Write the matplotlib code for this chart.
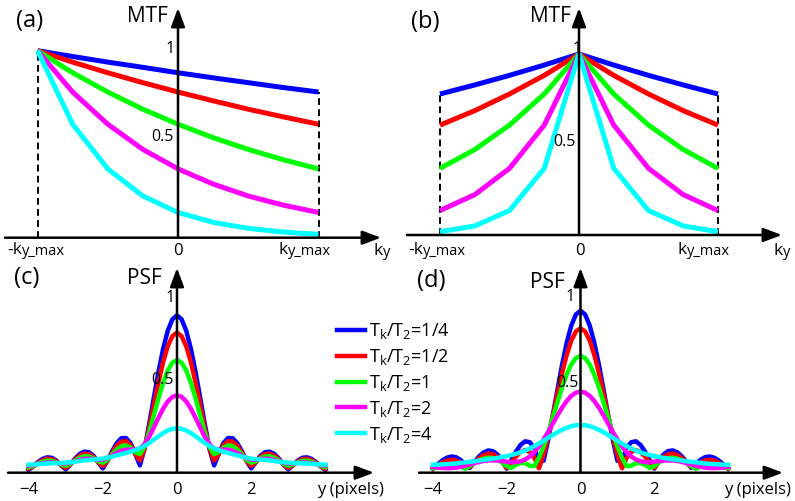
import numpy as np
import matplotlib
matplotlib.use('Agg')
import matplotlib.pyplot as plt

# ---------------- data ----------------
ratio_labels = ['1/4', '1/2', '1', '2', '4']

# k-space sample positions (units of ky_max)
ky = [-1.0, -0.75, -0.5, -0.25, 0.0, 0.25, 0.5, 0.75, 1.0]

# (a) MTF, one-sided (linear) ordering
mtf_a_quarter = [1.00, 0.969, 0.939, 0.911, 0.882, 0.855, 0.829, 0.803, 0.779]
mtf_a_half    = [1.00, 0.939, 0.882, 0.829, 0.779, 0.732, 0.687, 0.646, 0.607]
mtf_a_one     = [1.00, 0.882, 0.779, 0.687, 0.607, 0.535, 0.472, 0.417, 0.368]
mtf_a_two     = [1.00, 0.779, 0.607, 0.472, 0.368, 0.287, 0.223, 0.174, 0.135]
mtf_a_four    = [1.00, 0.607, 0.368, 0.223, 0.135, 0.082, 0.050, 0.030, 0.018]

# (b) MTF, centric ordering
mtf_b_quarter = [0.779, 0.829, 0.882, 0.939, 1.00, 0.939, 0.882, 0.829, 0.779]
mtf_b_half    = [0.607, 0.687, 0.779, 0.882, 1.00, 0.882, 0.779, 0.687, 0.607]
mtf_b_one     = [0.368, 0.472, 0.607, 0.779, 1.00, 0.779, 0.607, 0.472, 0.368]
mtf_b_two     = [0.135, 0.223, 0.368, 0.607, 1.00, 0.607, 0.368, 0.223, 0.135]
mtf_b_four    = [0.018, 0.050, 0.135, 0.368, 1.00, 0.368, 0.135, 0.050, 0.018]

# PSF sample positions (pixels), right half; curves are symmetric about 0
y_pix = [0.0, 0.125, 0.25, 0.375, 0.5, 0.625, 0.75, 0.875, 1.0,
         1.125, 1.25, 1.375, 1.5, 1.625, 1.75, 1.875, 2.0,
         2.125, 2.25, 2.375, 2.5, 2.625, 2.75, 2.875, 3.0,
         3.125, 3.25, 3.375, 3.5, 3.625, 3.75, 3.875, 4.0]

# (c) PSF magnitude
psf_c_quarter = [0.885, 0.862, 0.797, 0.695, 0.564, 0.418, 0.269, 0.129, 0.035,
                 0.100, 0.161, 0.190, 0.189, 0.161, 0.115, 0.060, 0.018,
                 0.053, 0.090, 0.110, 0.113, 0.100, 0.073, 0.039, 0.012,
                 0.036, 0.062, 0.078, 0.081, 0.072, 0.054, 0.029, 0.009]
psf_c_half    = [0.787, 0.767, 0.709, 0.619, 0.505, 0.377, 0.247, 0.129, 0.062,
                 0.101, 0.149, 0.172, 0.170, 0.146, 0.106, 0.061, 0.031,
                 0.053, 0.083, 0.100, 0.102, 0.090, 0.068, 0.040, 0.021,
                 0.036, 0.057, 0.070, 0.073, 0.065, 0.050, 0.029, 0.016]
psf_c_one     = [0.632, 0.617, 0.572, 0.503, 0.415, 0.318, 0.221, 0.140, 0.099,
                 0.110, 0.135, 0.148, 0.144, 0.125, 0.097, 0.066, 0.050,
                 0.059, 0.075, 0.086, 0.087, 0.078, 0.062, 0.043, 0.033,
                 0.040, 0.052, 0.061, 0.062, 0.056, 0.045, 0.032, 0.025]
psf_c_two     = [0.432, 0.423, 0.397, 0.356, 0.305, 0.250, 0.197, 0.155, 0.131,
                 0.124, 0.125, 0.124, 0.118, 0.106, 0.090, 0.076, 0.068,
                 0.067, 0.071, 0.073, 0.072, 0.066, 0.058, 0.050, 0.046,
                 0.046, 0.049, 0.052, 0.051, 0.048, 0.043, 0.037, 0.034]
psf_c_four    = [0.245, 0.242, 0.233, 0.218, 0.200, 0.181, 0.162, 0.145, 0.132,
                 0.122, 0.113, 0.106, 0.099, 0.092, 0.085, 0.079, 0.074,
                 0.071, 0.068, 0.066, 0.063, 0.060, 0.056, 0.053, 0.051,
                 0.049, 0.048, 0.047, 0.046, 0.044, 0.042, 0.040, 0.039]

# (d) PSF magnitude
psf_d_quarter = [0.885, 0.864, 0.802, 0.705, 0.582, 0.443, 0.300, 0.164, 0.045,
                 0.050, 0.115, 0.149, 0.154, 0.134, 0.096, 0.048, 0.001,
                 0.046, 0.080, 0.099, 0.103, 0.092, 0.069, 0.038, 0.005,
                 0.026, 0.050, 0.065, 0.069, 0.062, 0.046, 0.024, 0.000]
psf_d_half    = [0.787, 0.769, 0.718, 0.637, 0.535, 0.418, 0.297, 0.182, 0.079,
                 0.003, 0.062, 0.095, 0.105, 0.094, 0.068, 0.033, 0.005,
                 0.039, 0.066, 0.082, 0.085, 0.077, 0.059, 0.035, 0.009,
                 0.016, 0.035, 0.047, 0.051, 0.046, 0.034, 0.018, 0.001]
psf_d_one     = [0.632, 0.620, 0.584, 0.527, 0.455, 0.372, 0.286, 0.202, 0.126,
                 0.062, 0.015, 0.017, 0.032, 0.032, 0.022, 0.005, 0.016,
                 0.035, 0.051, 0.060, 0.062, 0.057, 0.046, 0.032, 0.015,
                 0.000, 0.013, 0.022, 0.025, 0.023, 0.017, 0.007, 0.004]
psf_d_two     = [0.432, 0.426, 0.408, 0.379, 0.342, 0.299, 0.253, 0.207, 0.164,
                 0.125, 0.093, 0.069, 0.052, 0.042, 0.037, 0.037, 0.040,
                 0.043, 0.046, 0.047, 0.047, 0.044, 0.038, 0.032, 0.024,
                 0.017, 0.011, 0.007, 0.004, 0.004, 0.005, 0.007, 0.011]
psf_d_four    = [0.245, 0.244, 0.238, 0.230, 0.218, 0.205, 0.189, 0.174, 0.157,
                 0.142, 0.127, 0.114, 0.102, 0.092, 0.084, 0.077, 0.071,
                 0.066, 0.061, 0.057, 0.053, 0.050, 0.046, 0.042, 0.039,
                 0.036, 0.033, 0.030, 0.028, 0.026, 0.025, 0.023, 0.023]

psf_ticks = [-4, -2, 0, 2]
psf_tick_labels = ['\u22124', '\u22122', '0', '2']

# ---------------- style ----------------
W, H = 795, 501
plt.rcParams['font.family'] = ['Open Sans', 'DejaVu Sans']
plt.rcParams['mathtext.fontset'] = 'custom'
plt.rcParams['mathtext.rm'] = 'Open Sans'
plt.rcParams['mathtext.it'] = 'Open Sans'
colors = ['#0000ff', '#ff0000', '#00ff00', '#ff00ff', '#00ffff']

fig = plt.figure(figsize=(W / 100, H / 100), dpi=100)
fig.patch.set_facecolor('white')

panels = {
    'a': dict(box=(0, 0, 400, 258), cx=178, sx=140.5, cy=237.7, sy=187.0),
    'b': dict(box=(400, 0, 795, 258), cx=579, sx=139.0, cy=235.0, sy=181.0),
    'c': dict(box=(0, 258, 400, 501), cx=177, sx=37.1, cy=471.6, sy=176.6),
    'd': dict(box=(400, 258, 795, 501), cx=580.5, sx=36.9, cy=468.8, sy=178.6),
}


def make_axes(p):
    l, t, r, b = p['box']
    ax = fig.add_axes([l / W, 1 - b / H, (r - l) / W, (b - t) / H])
    ax.set_xlim((l - p['cx']) / p['sx'], (r - p['cx']) / p['sx'])
    ax.set_ylim((p['cy'] - b) / p['sy'], (p['cy'] - t) / p['sy'])
    ax.axis('off')
    p['ax'] = ax
    return ax


def X(p, px):
    return (px - p['cx']) / p['sx']


def Y(p, py):
    return (p['cy'] - py) / p['sy']


def arrow(p, x0, y0, x1, y1):
    p['ax'].annotate('', xy=(X(p, x1), Y(p, y1)), xytext=(X(p, x0), Y(p, y0)),
                     arrowprops=dict(arrowstyle='-|>,head_length=0.75,head_width=0.28',
                                     lw=1.8, color='k', mutation_scale=15,
                                     shrinkA=0, shrinkB=0),
                     zorder=10, annotation_clip=False)


def ftext(x, y, s, **kw):
    kw.setdefault('ha', 'center')
    kw.setdefault('va', 'center')
    return fig.text(x / W, 1 - y / H, s, **kw)


renderer = fig.canvas.get_renderer()


def two_part(xc, yb, main, sub, f1=12.5, f2=10.5):
    t1 = ftext(0, yb, main, fontsize=f1, ha='left', va='baseline')
    t2 = ftext(0, yb + 1, sub, fontsize=f2, ha='left', va='baseline')
    w1 = t1.get_window_extent(renderer).width
    w2 = t2.get_window_extent(renderer).width
    start = xc - (w1 + w2) / 2
    t1.set_x(start / W)
    t2.set_x((start + w1) / W)


mtf_a = [mtf_a_quarter, mtf_a_half, mtf_a_one, mtf_a_two, mtf_a_four]
mtf_b = [mtf_b_quarter, mtf_b_half, mtf_b_one, mtf_b_two, mtf_b_four]
psf_c = [psf_c_quarter, psf_c_half, psf_c_one, psf_c_two, psf_c_four]
psf_d = [psf_d_quarter, psf_d_half, psf_d_one, psf_d_two, psf_d_four]

dash = dict(color='k', lw=1.4, linestyle=(0, (3.5, 2.2)), zorder=1)

# ---------- (a) ----------
pa = panels['a']
ax = make_axes(pa)
for vals, c in zip(mtf_a, colors):
    ax.plot(ky, vals, color=c, lw=3.6, zorder=3, solid_capstyle='butt')
ax.plot([ky[0], ky[0]], [0, mtf_a_quarter[0]], **dash)
ax.plot([ky[-1], ky[-1]], [0, mtf_a_quarter[-1]], **dash)
arrow(pa, 5, 237.7, 381, 237.7)
arrow(pa, 178, 237.7, 178, 8)

# ---------- (b) ----------
pb = panels['b']
ax = make_axes(pb)
for vals, c in zip(mtf_b, colors):
    ax.plot(ky, vals, color=c, lw=3.6, zorder=3, solid_capstyle='butt')
ax.plot([ky[0], ky[0]], [0, mtf_b_quarter[0]], **dash)
ax.plot([ky[-1], ky[-1]], [0, mtf_b_quarter[-1]], **dash)
arrow(pb, 407, 235, 782, 235)
arrow(pb, 579, 235, 579, 8)


def mirror_x(v):
    return [-t for t in v[:0:-1]] + list(v)


def mirror_v(v):
    return list(v[:0:-1]) + list(v)


y_full = mirror_x(y_pix)

# ---------- (c) ----------
pc = panels['c']
ax = make_axes(pc)
lines_c = []
for vals, c in zip(psf_c, colors):
    ln, = ax.plot(y_full, mirror_v(vals), color=c, lw=3.2, zorder=3)
    lines_c.append(ln)
arrow(pc, 8, 472.7, 374, 472.7)
arrow(pc, 177, 472.7, 177, 268)
for t, lab in zip(psf_ticks, psf_tick_labels):
    ax.text(t, Y(pc, 494), lab, ha='center', va='baseline', fontsize=12)

# ---------- (d) ----------
pd_ = panels['d']
ax = make_axes(pd_)
for vals, c in zip(psf_d, colors):
    ax.plot(y_full, mirror_v(vals), color=c, lw=3.2, zorder=3)
arrow(pd_, 419, 472.7, 783, 472.7)
arrow(pd_, 580.5, 472.7, 580.5, 268)
for t, lab in zip(psf_ticks, psf_tick_labels):
    ax.text(t, Y(pd_, 494), lab, ha='center', va='baseline', fontsize=12)

# ---------- legend ----------
leg_labels = ['T$_\\mathregular{k}$/T$_\\mathregular{2}$=' + r for r in ratio_labels]
leg = panels['c']['ax'].legend(lines_c, leg_labels, loc='center left',
                               bbox_to_anchor=(337 / W, 1 - 383 / H),
                               bbox_transform=fig.transFigure, frameon=False,
                               fontsize=13, handlelength=1.55, handletextpad=0.2,
                               labelspacing=0.32, borderpad=0, borderaxespad=0)
for l in leg.get_lines():
    l.set_linewidth(3.2)

# ---------- texts ----------
ftext(30, 21, '(a)', fontsize=17)
ftext(147, 17, 'MTF', fontsize=15)
ftext(170, 49, '1', fontsize=11.5)
ftext(162, 137, '0.5', fontsize=11.5)
two_part(36, 254, '-k', 'y_max')
ftext(178, 255, '0', fontsize=12, va='baseline')
two_part(305, 254, 'k', 'y_max')
two_part(382, 255, 'k', 'y')

ftext(425, 22, '(b)', fontsize=17)
ftext(550, 16, 'MTF', fontsize=15)
ftext(577, 49, '1', fontsize=11.5)
ftext(564, 142, '0.5', fontsize=11.5)
two_part(437, 254, '-k', 'y_max')
ftext(580, 255, '0', fontsize=12, va='baseline')
two_part(704, 254, 'k', 'y_max')
two_part(782, 255, 'k', 'y')

ftext(27, 278, '(c)', fontsize=17)
ftext(144, 279, 'PSF', fontsize=15)
ftext(170, 298, '1', fontsize=11.5)
ftext(162, 380, '0.5', fontsize=11.5)
ftext(350, 494, 'y (pixels)', fontsize=12, va='baseline')

ftext(431, 281, '(d)', fontsize=17)
ftext(547, 282, 'PSF', fontsize=15)
ftext(570, 297, '1', fontsize=11.5)
ftext(567, 383, '0.5', fontsize=11.5)
ftext(757, 494, 'y (pixels)', fontsize=12, va='baseline')

fig.savefig('out.png', dpi=100, facecolor='white')
